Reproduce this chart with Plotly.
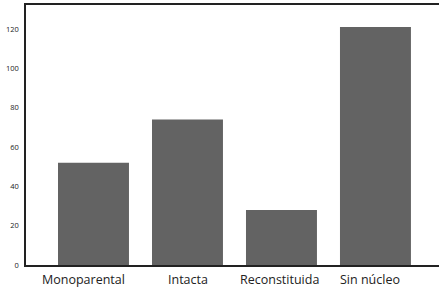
import plotly.graph_objects as go

categories = ["Monoparental", "Intacta", "Reconstituida", "Sin núcleo"]
values = [52, 74, 28, 121]
y_ticks = [0, 20, 40, 60, 80, 100, 120]
label_shift = [-10, 1, -1.5, -5.5]

fig = go.Figure(go.Bar(x=categories, y=values, marker=dict(color="#636363", line=dict(width=0))))

for cat, dx in zip(categories, label_shift):
    fig.add_annotation(x=cat, y=0, xref="x", yref="y", text=cat, showarrow=False,
                       xanchor="center", yanchor="middle", xshift=dx, yshift=-14,
                       font=dict(family="Open Sans", size=12.5, color="#222"))

fig.update_layout(
    width=439, height=292,
    margin=dict(l=26, r=0, t=5, b=27),
    paper_bgcolor="white", plot_bgcolor="white",
    bargap=0.245, showlegend=False,
    font=dict(family="Open Sans", color="#222"),
)
fig.update_xaxes(
    range=[-0.718, 3.676], showgrid=False, zeroline=False, automargin=False,
    showline=True, linecolor="#222", linewidth=1.5, mirror=True,
    ticks="", showticklabels=False,
)
fig.update_yaxes(
    range=[0, 132.2], tickvals=y_ticks, showgrid=False, zeroline=False, automargin=False,
    showline=True, linecolor="#222", linewidth=1.5, mirror=False,
    ticks="", ticklabelstandoff=4, tickfont=dict(size=7.5, color="#222"),
)
fig.write_html("out.html", config={"displayModeBar": False},
               post_script="document.body.style.margin='0';")
